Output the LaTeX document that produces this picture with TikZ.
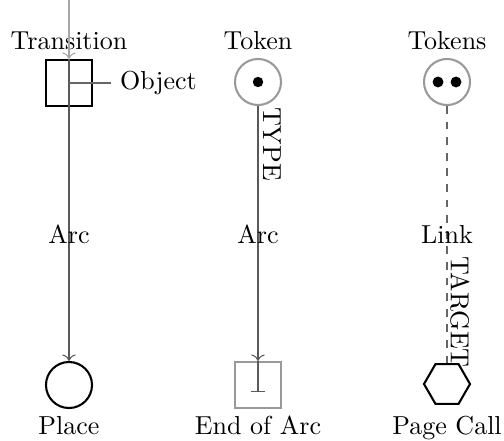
\documentclass[tikz,border=0pt]{standalone}
\usetikzlibrary{shapes.geometric, arrows.meta}
\begin{document}
\begin{tikzpicture}[x=0.3846pt, y=-0.3846pt,
  trans/.style={draw, thick, minimum size=17.7pt, inner sep=0pt},
  place/.style={draw, circle, thick, minimum size=17.7pt, inner sep=0pt},
  token/.style={draw=black!40, circle, thick, minimum size=17.7pt, inner sep=0pt},
  endbox/.style={draw=black!40, thick, minimum size=17.7pt, inner sep=0pt},
  pagecall/.style={draw, thick, regular polygon, regular polygon sides=6,
    minimum size=17.7pt, inner sep=0pt},
  inline/.style={draw=black!35, line width=0.4pt, ->},
  arcline/.style={draw=black!65, line width=0.4pt},
  objline/.style={draw=black!60, line width=0.4pt},
  linkline/.style={draw=black!60, line width=0.4pt, dashed},
  dot/.style={fill=black}
]
\useasboundingbox (0,0) rectangle (504,440);

% element shapes
\node[trans] (t) at (69,83) {};
\node[place] (p) at (69,385) {};
\node[token] (tk) at (258,82) {};
\node[endbox] (e) at (258,385) {};
\node[token] (tks) at (447,82) {};
\node[pagecall] (pc) at (447,384) {};

% tokens inside the places
\fill[dot] (tk.center) circle (2pt);
\fill[dot] ([xshift=-3.46pt]tks.center) circle (2.1pt);
\fill[dot] ([xshift=3.46pt]tks.center) circle (2.1pt);

% captions
\node[anchor=base] (lt) at (69,50) {Transition};
\node[anchor=base] (ltk) at (258,50) {Token};
\node[anchor=base] (ltks) at (447,50) {Tokens};
\node[anchor=base] (lp) at (69,434) {Place};
\node[anchor=base] (le) at (258,434) {End of Arc};
\node[anchor=base] (lpc) at (447,434) {Page Call};
\node[anchor=west] (obj) at (111,83) {Object};

% connectors
\coordinate (top) at (69,0);
\draw[inline] (top) -- (t.north);
\draw[arcline, ->] (t.north) -- (p.north);
\draw[objline] (t.center) -- (obj.west);

\draw[arcline, ->] (tk.south) -- (e.north);
\coordinate (bar) at (258,392);
\draw[arcline, -{Bar[width=5.4pt]}] (e.north) -- (bar);

\draw[linkline] (tks.south) -- (pc.north);

% connector labels
\node[anchor=base] (a1) at (69,243) {Arc};
\node[anchor=base] (a2) at (258,243) {Arc};
\node[anchor=base] (lk) at (447,243) {Link};
\node[rotate=-90] (ty) at (272,144) {TYPE};
\node[rotate=-90] (tg) at (460,312) {TARGET};
\end{tikzpicture}
\end{document}
